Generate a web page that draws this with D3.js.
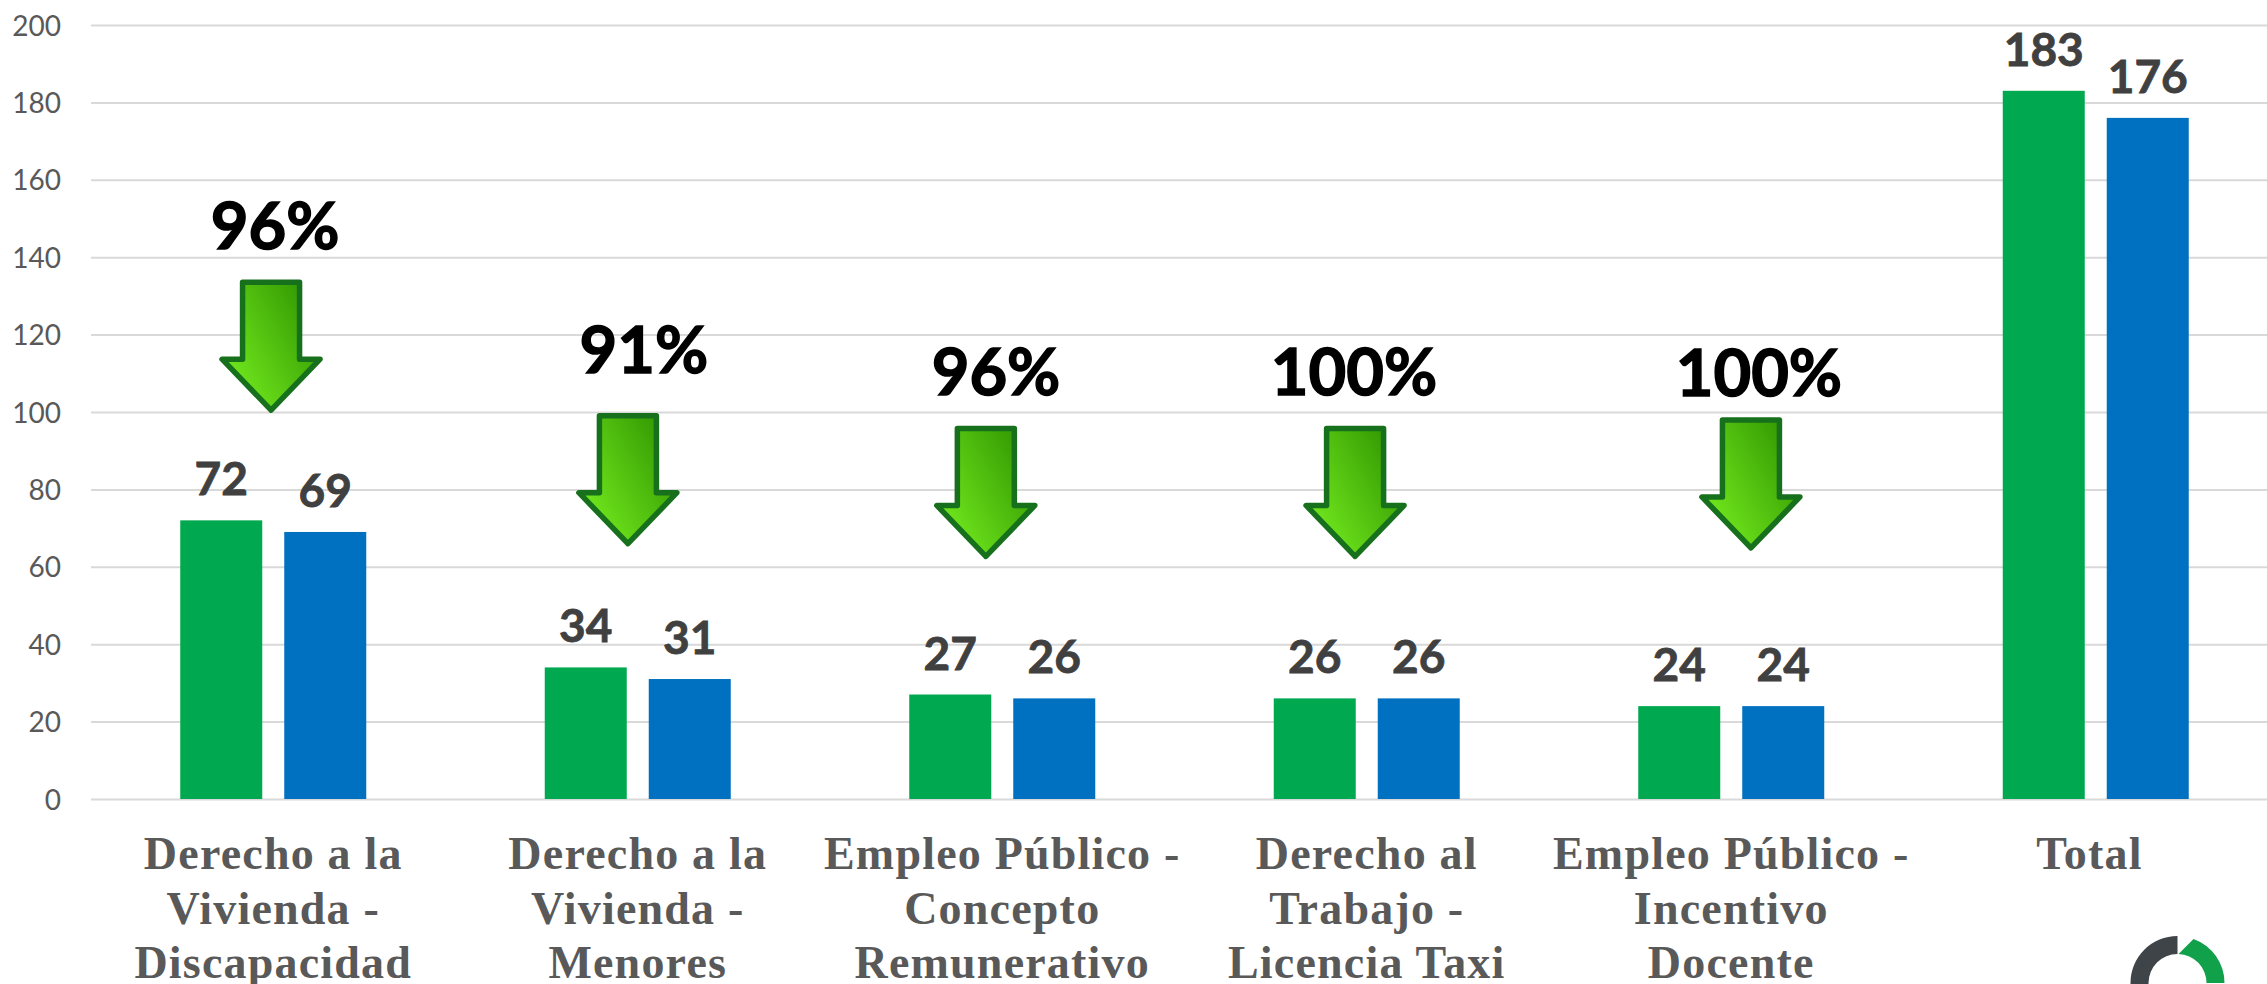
<!DOCTYPE html>
<html>
<head>
<meta charset="utf-8">
<script src="https://d3js.org/d3.v7.min.js"></script>
<style>
  html, body { margin: 0; padding: 0; background: #fff; overflow: hidden; }
  .tick-label { font-family: Lato, sans-serif; font-size: 28px; fill: #595959; }
  .value-label { font-family: Lato, sans-serif; font-weight: 700; font-size: 46px; fill: #404040; stroke: #404040; stroke-width: 0.8px; text-anchor: middle; }
  .pct-label { font-family: Lato, sans-serif; font-weight: 700; font-size: 65px; fill: #000; stroke: #000; stroke-width: 1.4px; text-anchor: middle; }
  .cat-label { font-family: "Liberation Serif", serif; font-weight: 700; font-size: 46px; letter-spacing: 1.2px; fill: #595959; text-anchor: middle; }
</style>
</head>
<body>
<svg id="chart" width="2267" height="984"></svg>
<script>
// chart values
const categories = [
  ["Derecho a la", "Vivienda -", "Discapacidad"],
  ["Derecho a la", "Vivienda -", "Menores"],
  ["Empleo Público -", "Concepto", "Remunerativo"],
  ["Derecho al", "Trabajo -", "Licencia Taxi"],
  ["Empleo Público -", "Incentivo", "Docente"],
  ["Total\u00a0"]
];
const greenValues = [72, 34, 27, 26, 24, 183];
const blueValues = [69, 31, 26, 26, 24, 176];
const yTicks = [0, 20, 40, 60, 80, 100, 120, 140, 160, 180, 200];

// percent callouts: text, arrow tip read on the y axis, centre read in category units
const pctLabels = ["96%", "91%", "96%", "100%", "100%"];
const arrowTipValues = [99.7, 65.2, 61.9, 61.9, 64.1];
const arrowCentres = [0.494, 1.473, 2.455, 3.468, 4.554];
const pctCentres = [0.505, 1.517, 2.483, 3.465, 4.576];
const pctBaseValues = [142.1, 110.2, 104.4, 104.4, 104.1];

const svg = d3.select("#chart");
const width = 2267;
const height = 984;
const plotLeft = 91;
const plotTop = 25;
const plotBottom = 799;
const step = 364.5;

let xScale = d3.scaleBand().domain(d3.range(categories.length))
  .range([plotLeft, plotLeft + step * categories.length]);
let barScale = d3.scaleBand().domain(["green", "blue"]).range([0, 186]).paddingInner(0.2115);
let yScale = d3.scaleLinear().domain([0, 200]).range([plotBottom, plotTop]);
// continuous version of the category axis, for callouts that sit off the band centres
let xPos = d3.scaleLinear().domain([0, categories.length]).range(xScale.range());

// gradient for the arrows
let grad = svg.append("defs").append("linearGradient")
  .attr("id", "arrowFill")
  .attr("x1", "0%").attr("y1", "85%")
  .attr("x2", "100%").attr("y2", "15%");
grad.append("stop").attr("offset", "0%").attr("stop-color", "#78f020");
grad.append("stop").attr("offset", "100%").attr("stop-color", "#2f9400");

// y axis and gridlines
let yAxis = d3.axisLeft(yScale)
  .tickValues(yTicks)
  .tickSize(-(width - plotLeft))
  .tickPadding(30);

let axisG = svg.append("g")
  .attr("transform", "translate(" + plotLeft + ",0)")
  .call(yAxis);
axisG.select(".domain").remove();
axisG.selectAll("line").attr("stroke", "#d9d9d9").attr("stroke-width", 2);
axisG.selectAll("text")
  .attr("class", "tick-label")
  .attr("dy", "0.36em");

// bars
function drawSeries(values, key, color) {
  let groupLeft = (i) => xScale(i) + (xScale.bandwidth() - barScale.range()[1]) / 2;

  svg.append("g").selectAll("rect")
    .data(values)
    .enter()
    .append("rect")
    .attr("x", (d, i) => groupLeft(i) + barScale(key))
    .attr("y", (d) => yScale(d))
    .attr("width", barScale.bandwidth())
    .attr("height", (d) => yScale(0) - yScale(d))
    .attr("fill", color);

  svg.append("g").selectAll("text")
    .data(values)
    .enter()
    .append("text")
    .attr("class", "value-label")
    .attr("x", (d, i) => groupLeft(i) + barScale(key) + barScale.bandwidth() / 2)
    .attr("y", (d) => yScale(d) - 25)
    .text((d) => d);
}
drawSeries(greenValues, "green", "#00a94f");
drawSeries(blueValues, "blue", "#0070c0");

// category labels
let catLabels = svg.append("g").selectAll("text")
  .data(categories)
  .enter()
  .append("text")
  .attr("class", "cat-label")
  .attr("transform", (d, i) => "translate(" + (xScale(i) + xScale.bandwidth() / 2) + ",869)");
catLabels.selectAll("tspan")
  .data((d) => d)
  .enter()
  .append("tspan")
  .attr("x", 0)
  .attr("y", (d, i) => i * 54.5)
  .text((d) => d);

// arrows, drawn around the tip
function arrowPath() {
  return "M-28.5,-131L28.5,-131L28.5,-54L49,-54L0,-3L-49,-54L-28.5,-54Z";
}
svg.append("g").selectAll("path")
  .data(arrowTipValues)
  .enter()
  .append("path")
  .attr("transform", (d, i) => "translate(" + xPos(arrowCentres[i]) + "," + yScale(d) + ")")
  .attr("d", arrowPath())
  .attr("fill", "url(#arrowFill)")
  .attr("stroke", "#17701c")
  .attr("stroke-width", 5.5)
  .attr("stroke-linejoin", "round");

svg.append("g").selectAll("text")
  .data(pctLabels)
  .enter()
  .append("text")
  .attr("class", "pct-label")
  .attr("x", (d, i) => xPos(pctCentres[i]))
  .attr("y", (d, i) => yScale(pctBaseValues[i]))
  .text((d) => d);

// logo ring in the corner, cut off by the page edge
let logoArc = d3.arc().innerRadius(29).outerRadius(47);
let logo = svg.append("g").attr("transform", "translate(2177.5,983)");
logo.append("path")
  .attr("d", logoArc({ startAngle: -Math.PI, endAngle: 0 }))
  .attr("fill", "#3f4448");
logo.append("path")
  .attr("d", "M1,-29L16,-44A47,47 0 0 1 47,0L29,0A29,29 0 0 0 1,-29Z")
  .attr("fill", "#12a14b");
</script>
</body>
</html>
